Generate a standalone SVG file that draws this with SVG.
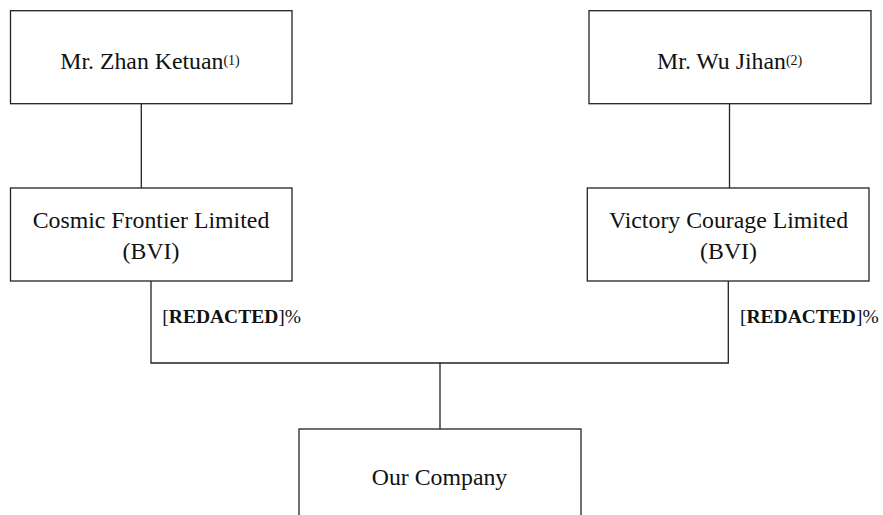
<svg xmlns="http://www.w3.org/2000/svg" width="883" height="515" viewBox="0 0 883 515">
<style>
.box{fill:#fff;stroke:#222;stroke-width:1.3}
.t{font-family:"Liberation Serif","Times New Roman",serif;font-size:23.8px;fill:#111;text-anchor:middle}
.sup{font-size:14px}
.pct{font-family:"Liberation Serif","Times New Roman",serif;font-size:19.5px;fill:#111}
.b{font-weight:bold}
.conn{fill:none;stroke:#222;stroke-width:1.3}
</style>
<rect width="883" height="515" fill="#fff"/>
<g id="connectors">
<line class="conn" x1="141.3" y1="104" x2="141.3" y2="188"/>
<line class="conn" x1="729.5" y1="104" x2="729.5" y2="188"/>
<polyline class="conn" points="151,281 151,363 728.3,363 728.3,281"/>
<line class="conn" x1="440" y1="363" x2="440" y2="429"/>
</g>
<g id="zhan">
<rect class="box" x="10.5" y="10.7" width="281.5" height="93"/>
<text class="t" x="150" y="69">Mr. Zhan Ketuan<tspan class="sup" dy="-4">(1)</tspan></text>
</g>
<g id="wu">
<rect class="box" x="589" y="10.7" width="282" height="93"/>
<text class="t" x="729.7" y="69">Mr. Wu Jihan<tspan class="sup" dy="-4">(2)</tspan></text>
</g>
<g id="cosmic">
<rect class="box" x="10.5" y="188" width="281.5" height="93"/>
<text class="t" x="151" y="227.7">Cosmic Frontier Limited</text>
<text class="t" x="151" y="259">(BVI)</text>
</g>
<g id="victory">
<rect class="box" x="587.3" y="188" width="281.7" height="93"/>
<text class="t" x="728.5" y="227.7">Victory Courage Limited</text>
<text class="t" x="728.5" y="259">(BVI)</text>
</g>
<g id="label-left">
<text class="pct" x="162.3" y="323.3">[<tspan class="b">REDACTED</tspan>]%</text>
</g>
<g id="label-right">
<text class="pct" x="740" y="323.3">[<tspan class="b">REDACTED</tspan>]%</text>
</g>
<g id="company">
<rect class="box" x="299" y="429" width="282" height="100"/>
<text class="t" x="439.5" y="485">Our Company</text>
</g>
</svg>
